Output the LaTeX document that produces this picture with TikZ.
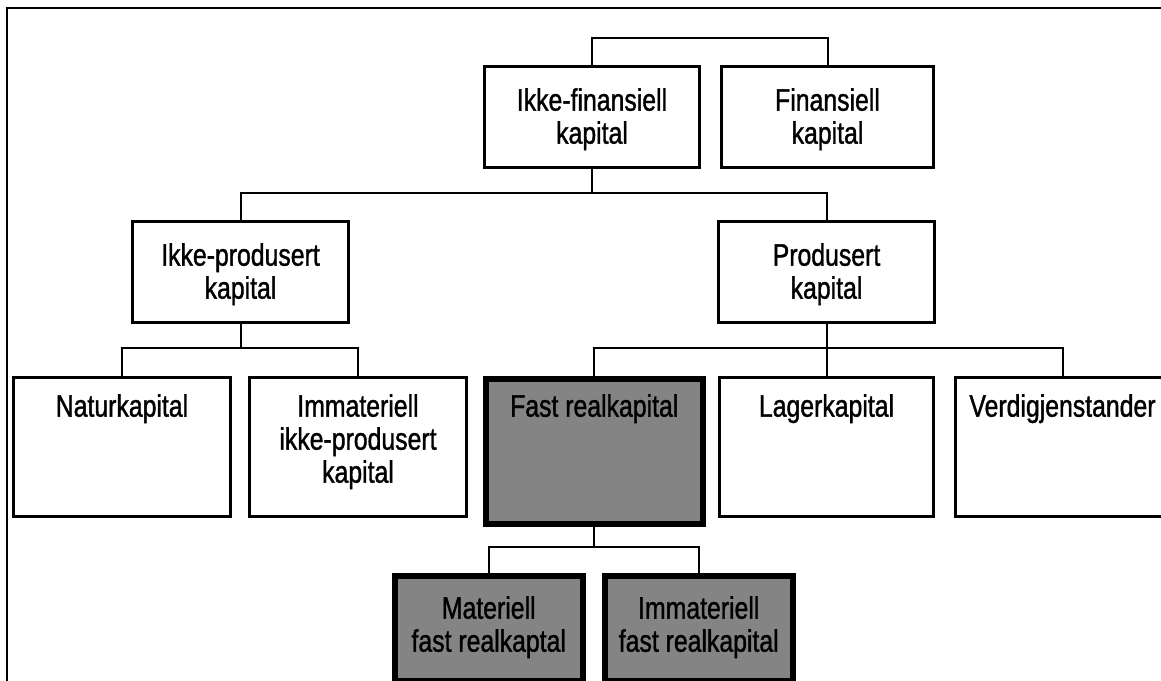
\documentclass[tikz,border=0pt]{standalone}
\usepackage{fontspec}
\setmainfont{Liberation Sans}[FakeStretch=0.80,FakeBold=1.2]
\definecolor{shade}{RGB}{132,132,132}
\begin{document}
\begin{tikzpicture}[x=1pt,y=-1pt,
  box/.style={draw, line width=3pt, fill=white, inner sep=0pt, anchor=north west},
  darkbox/.style={box, line width=5.5pt, fill=shade},
  lab/.style={anchor=north, inner sep=0pt, align=center, font=\fontsize{31}{33}\selectfont},
  conn/.style={line width=2pt}]
\useasboundingbox (0,0) rectangle (1161,680);
\clip (0,0) rectangle (1161,680);
\fill[white] (0,0) rectangle (1161,680);
% outer frame
\draw[line width=2.5pt] (1170,8) -- (7,8) -- (7,690);
% boxes
\node[box, minimum width=215pt, minimum height=101pt] (if) at (483,65) {};
\node[box, minimum width=212pt, minimum height=101pt] (f) at (720,65) {};
\node[box, minimum width=216pt, minimum height=101pt] (ip) at (131,220) {};
\node[box, minimum width=216pt, minimum height=101pt] (p) at (717,220) {};
\node[box, minimum width=217pt, minimum height=139pt] (n) at (12,376) {};
\node[box, minimum width=217pt, minimum height=139pt] (iip) at (248,376) {};
\node[darkbox, minimum width=217pt, minimum height=145pt] (fr) at (483,376) {};
\node[box, minimum width=214pt, minimum height=139pt] (l) at (718,376) {};
\node[box, minimum width=214pt, minimum height=139pt] (v) at (954,376) {};
\node[darkbox, minimum width=188pt, minimum height=105pt] (m) at (392,573) {};
\node[darkbox, minimum width=188pt, minimum height=105pt] (ifr) at (602,573) {};
% labels
\node[lab] (tif) at ([yshift=-23pt]if.north) {Ikke-finansiell\\kapital};
\node[lab] (tf) at ([yshift=-23pt]f.north) {Finansiell\\kapital};
\node[lab] (tip) at ([yshift=-23pt]ip.north) {Ikke-produsert\\kapital};
\node[lab] (tp) at ([yshift=-23pt]p.north) {Produsert\\kapital};
\node[lab] (tn) at ([yshift=-18pt]n.north) {Naturkapital};
\node[lab] (tiip) at ([yshift=-18pt]iip.north) {Immateriell\\ikke-produsert\\kapital};
\node[lab] (tfr) at ([yshift=-18pt]fr.north) {Fast realkapital};
\node[lab] (tl) at ([yshift=-18pt]l.north) {Lagerkapital};
\node[lab] (tv) at ([yshift=-18pt]v.north) {Verdigjenstander};
\node[lab] (tm) at ([yshift=-23pt]m.north) {Materiell\\fast realkaptal};
\node[lab] (tifr) at ([yshift=-23pt]ifr.north) {Immateriell\\fast realkapital};
% connectors
\draw[conn] (if.north) -- ++(0,-27) -| (f.north);
\coordinate (j1) at (if.south |- 0,193);
\draw[conn] (if.south) -- (j1);
\draw[conn] (ip.north) |- (j1) -| (p.north);
\coordinate (j2) at (ip.south |- 0,348);
\draw[conn] (ip.south) -- (j2);
\draw[conn] (n.north) |- (j2) -| (iip.north);
\coordinate (j3) at (p.south |- 0,348);
\draw[conn] (p.south) -- (j3);
\draw[conn] (fr.north) |- (j3) -| (v.north);
\draw[conn] (j3) -- (l.north);
\coordinate (j4) at (fr.south |- 0,547);
\draw[conn] (fr.south) -- (j4);
\draw[conn] (m.north) |- (j4) -| (ifr.north);
\end{tikzpicture}
\end{document}
